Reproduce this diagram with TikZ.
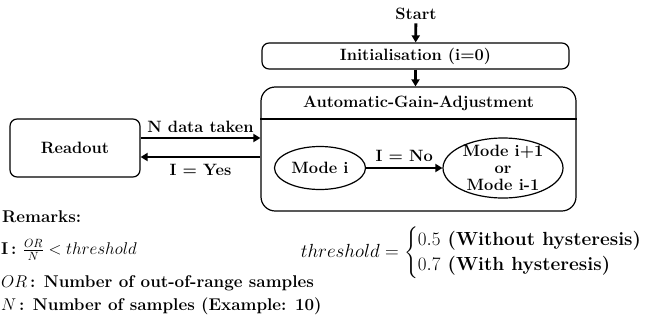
\RequirePackage{fix-cm}
\documentclass[tikz,border=0pt]{standalone}
\usepackage{amsmath}
\usetikzlibrary{shapes.geometric}
\usetikzlibrary{arrows.meta}

\begin{document}
\begin{tikzpicture}[x=1pt,y=-1pt,>={Triangle[length=7pt,width=8pt]},
every node/.style={font=\fontsize{16.4}{17}\selectfont\bfseries},
kastli/.style={rectangle,rounded corners=2.5mm,draw=black,line width=1.2pt},
mod/.style={ellipse,draw=black,line width=1.2pt,inner sep=-3pt,align=center},
not/.style={anchor=west,inner sep=1pt,font=\fontsize{17}{19}\selectfont\bfseries}]

\useasboundingbox (0,0) rectangle (646,327);

\node(start) at (416,14){Start};
\node[kastli,minimum width=307pt,minimum height=26pt](init) at (415.5,56){Initialisation (i=0)};

\node[kastli,rounded corners=5mm,minimum width=315pt,minimum height=124pt](aga) at (418.5,149){};
\node(aga-title) at (418.5,103){Automatic-Gain-Adjustment};
\coordinate(sep) at (0,119);
\draw[line width=1.2pt] (aga.west |- sep) -- (aga.east |- sep);

\node[kastli,minimum width=130pt,minimum height=58pt](readout) at (75,148){Readout};

\node[mod,minimum width=91pt,minimum height=43pt](mode) at (320,168){Mode i};
\node[mod,minimum width=120pt,minimum height=60pt](mode-new) at (503,168){Mode i+1\\or\\Mode i-1};

\begin{scope}[->, line width=2.8pt]
\draw (start) -- (init);
\draw (init.south) -- (init.south |- aga.north);
\draw ([yshift=10pt]readout.east) -- ([yshift=10pt]readout.east -| aga.west) node[pos=.5, above, inner sep=4pt]{N data taken};
\draw ([yshift=-9pt]readout.east -| aga.west) -- ([yshift=-9pt]readout.east) node[pos=.5, below, inner sep=6pt]{I = Yes};
\draw (mode) -- (mode-new) node[pos=.5, above, inner sep=5pt]{I = No};
\end{scope}

% remarks
\node[not](rem) at (1,217){Remarks:};
\node[not](cond) at (0,250){I\,: $\frac{OR}{N} < threshold$};
\node[not](or-def) at (0,283){$OR$\,: Number of out-of-range samples};
\node[not](n-def) at (0,306){$N$\,: Number of samples (Example: 10)};
\node[font=\fontsize{19}{21}\selectfont\bfseries](thr) at (481,253){$threshold = \begin{cases} 0.5 \text{ (Without hysteresis)}\\ 0.7 \text{ (With hysteresis)}\end{cases}$};

\end{tikzpicture}
\end{document}
